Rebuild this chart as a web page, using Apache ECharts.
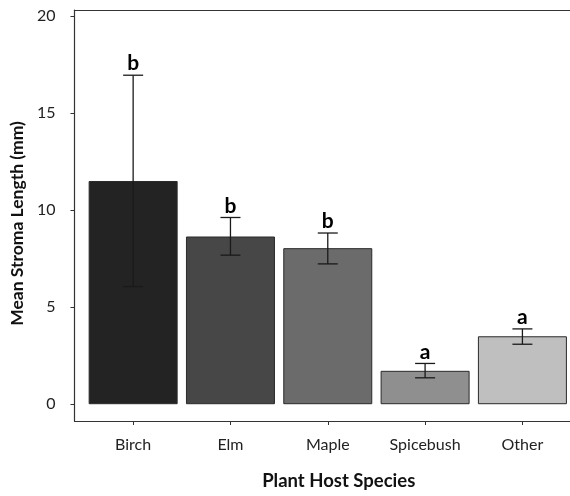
<!DOCTYPE html>
<html>
<head>
<meta charset="utf-8">
<script src="https://cdn.jsdelivr.net/npm/echarts@6/dist/echarts.min.js"></script>
<style>html,body{margin:0;padding:0;background:#fff;}#c{width:570px;height:496px;}</style>
</head>
<body>
<div id="c"></div>
<script>
const categories = ['Birch', 'Elm', 'Maple', 'Spicebush', 'Other'];
const means = [11.5, 8.64, 8.04, 1.72, 3.5];
const errLow = [6.06, 7.68, 7.23, 1.36, 3.09];
const errHigh = [16.95, 9.62, 8.82, 2.1, 3.88];
const letters = ['b', 'b', 'b', 'a', 'a'];
const yTicks = [0, 5, 10, 15, 20];
const barColors = ['#232323', '#474747', '#6b6b6b', '#8f8f8f', '#bfbfbf'];

const FONT = 'Lato';
const chart = echarts.init(document.getElementById('c'), null, {renderer: 'canvas'});
const catIdx = categories.map((c, i) => i);

chart.setOption({
  animation: false,
  backgroundColor: '#fff',
  grid: {left: 72, right: 0, top: 10, bottom: 70},
  xAxis: [{
    type: 'value', min: -0.603, max: 4.489,
    name: 'Plant Host Species', nameLocation: 'middle', nameGap: 51,
    nameTextStyle: {fontFamily: FONT, fontSize: 18.5, fontWeight: 'bold', color: '#111', padding: [0, 0, 0, 33]},
    axisLine: {show: true, onZero: false, lineStyle: {color: '#333', width: 1.2}},
    axisTick: {show: true, customValues: catIdx, length: 4, lineStyle: {color: '#333'}},
    axisLabel: {show: true, customValues: catIdx, margin: 16, fontFamily: FONT, fontSize: 16, color: '#222',
      formatter: v => categories[Math.round(v)]},
    splitLine: {show: false}
  }, {
    type: 'value', position: 'top', min: -0.603, max: 4.489,
    axisLine: {show: true, onZero: false, lineStyle: {color: '#333', width: 1.2}},
    axisTick: {show: false}, axisLabel: {show: false}, splitLine: {show: false}
  }],
  yAxis: {
    type: 'value', min: -0.865, max: 20.31,
    name: 'Mean Stroma Length (mm)', nameLocation: 'middle', nameGap: 46,
    nameTextStyle: {fontFamily: FONT, fontSize: 17.5, fontWeight: 'bold', color: '#111', padding: [0, 16, 0, 0]},
    axisLine: {show: true, onZero: false, lineStyle: {color: '#333', width: 1.2}},
    axisTick: {show: true, customValues: yTicks, length: 4, lineStyle: {color: '#333'}},
    axisLabel: {show: true, customValues: yTicks, margin: 19, fontFamily: FONT, fontSize: 16, color: '#222'},
    splitLine: {show: false}
  },
  series: [
    {
      type: 'bar', barWidth: 89,
      data: means.map((m, i) => ({value: [i, m], itemStyle: {color: barColors[i]}})),
      itemStyle: {borderColor: '#2a2a2a', borderWidth: 1}
    },
    {
      type: 'custom',
      data: means.map((m, i) => [i, errLow[i], errHigh[i]]),
      z: 5,
      renderItem: function (params, api) {
        const i = api.value(0);
        const lo = api.coord([i, api.value(1)]);
        const hi = api.coord([i, api.value(2)]);
        const hw = 10;
        const st = {stroke: '#1a1a1a', lineWidth: 1.3};
        return {
          type: 'group',
          children: [
            {type: 'line', shape: {x1: lo[0], y1: lo[1], x2: hi[0], y2: hi[1]}, style: st},
            {type: 'line', shape: {x1: hi[0] - hw, y1: hi[1], x2: hi[0] + hw, y2: hi[1]}, style: st},
            {type: 'line', shape: {x1: lo[0] - hw, y1: lo[1], x2: lo[0] + hw, y2: lo[1]}, style: st},
            {type: 'text', x: hi[0], y: hi[1] - 1,
              style: {text: letters[params.dataIndex], fill: '#000', font: 'bold 21px ' + FONT, textAlign: 'center', textVerticalAlign: 'bottom'}}
          ]
        };
      }
    }
  ]
});
</script>
</body>
</html>
